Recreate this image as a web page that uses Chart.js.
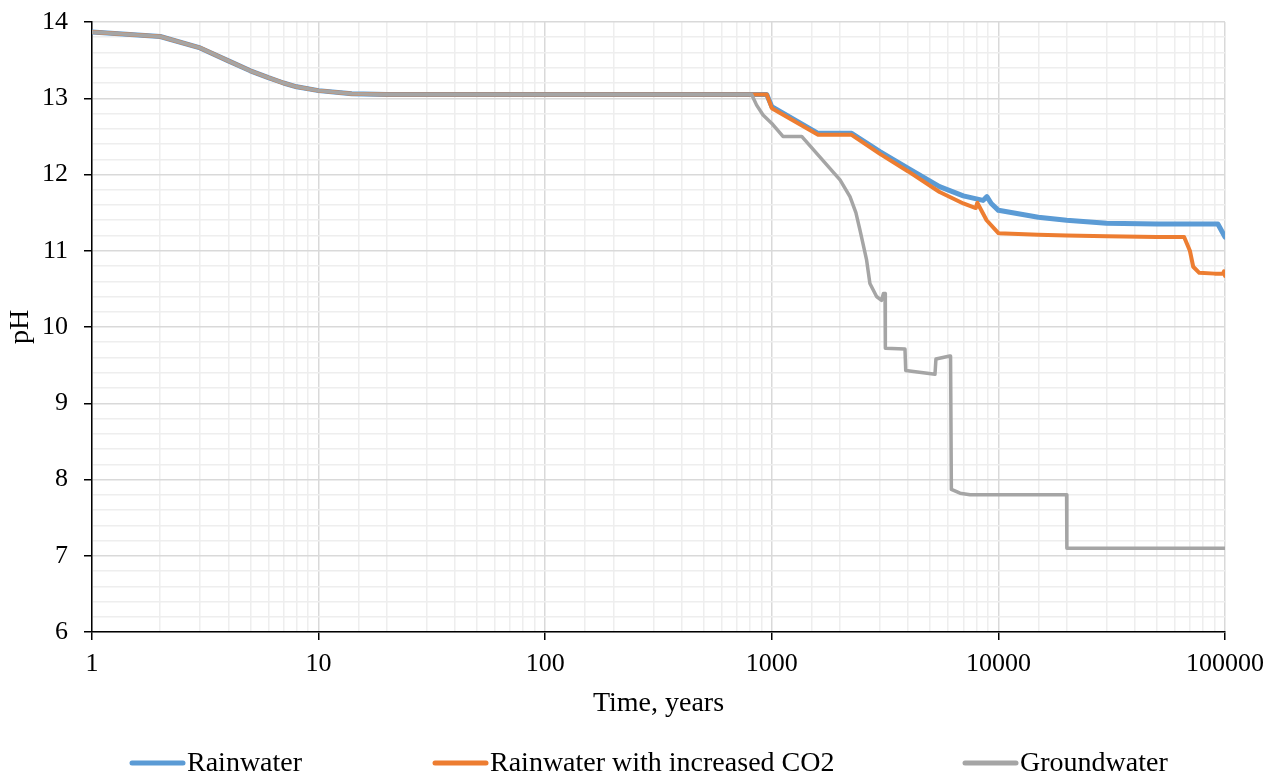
<!DOCTYPE html>
<html>
<head>
<meta charset="utf-8">
<script src="https://cdn.jsdelivr.net/npm/chart.js@4.4.1/dist/chart.umd.min.js"></script>
<style>
  html, body { margin: 0; padding: 0; background: #fff; }
  #wrap { width: 1285px; height: 776px; }
</style>
</head>
<body>
<div id="wrap"><canvas id="phChart" width="1285" height="776"></canvas></div>
<script>
// shared leaching start (all three runs overlap here)
const earlyTime = [1, 2, 3, 4, 5, 6, 7, 8, 10, 14, 20, 50, 100, 300, 800];
const earlyPH   = [13.87, 13.81, 13.66, 13.49, 13.36, 13.27, 13.2, 13.15, 13.1, 13.06, 13.05, 13.05, 13.05, 13.05, 13.05];

// Rainwater
const rainTime = [950, 1000, 1600, 2250, 3000, 4000, 5500, 7000, 8000, 8550, 8900, 9300, 10000, 15000, 20000, 30000, 50000, 93000, 100000];
const rainPH   = [13.05, 12.89, 12.54, 12.54, 12.3, 12.08, 11.84, 11.72, 11.68, 11.66, 11.71, 11.62, 11.53, 11.44, 11.4, 11.36, 11.35, 11.35, 11.18];

// Rainwater with increased CO2
const co2Time = [950, 1000, 1600, 2250, 3000, 4000, 5500, 7000, 7950, 8070, 8870, 10000, 15000, 20000, 30000, 50000, 66000, 70000, 72400, 77000, 90000, 98000, 99000, 100000];
const co2PH   = [13.05, 12.87, 12.52, 12.52, 12.27, 12.04, 11.77, 11.62, 11.56, 11.63, 11.4, 11.23, 11.21, 11.2, 11.19, 11.18, 11.18, 11.0, 10.79, 10.71, 10.7, 10.7, 10.73, 10.67];

// Groundwater
const groundTime = [815, 857, 915, 1000, 1120, 1355, 2000, 2213, 2350, 2450, 2620, 2710, 2900, 3050, 3110, 3160, 3170, 3870, 3900, 5250, 5300, 6100, 6150, 6200, 6770, 7500, 20000, 20050, 100000];
const groundPH   = [13.05, 12.91, 12.78, 12.67, 12.5, 12.5, 11.93, 11.71, 11.5, 11.27, 10.88, 10.57, 10.4, 10.35, 10.44, 10.44, 9.72, 9.71, 9.43, 9.38, 9.58, 9.62, 9.62, 7.87, 7.82, 7.8, 7.8, 7.1, 7.1];

const seriesNames = ['Rainwater', 'Rainwater with increased CO2', 'Groundwater'];
const seriesColors = ['#5B9BD5', '#ED7D31', '#A5A5A5'];

function toPoints(times, values) {
    const t = earlyTime.concat(times);
    const v = earlyPH.concat(values);
    return t.map((x, i) => ({ x: x, y: v[i] }));
}

const isWhole = v => Math.abs(v - Math.round(v)) < 1e-6;
const isDecade = v => isWhole(Math.log10(v));
const serif = "'Liberation Serif', 'Times New Roman', serif";

// legend drawn like the Excel one: short line + label, spread across the bottom
const legendStarts = [130, 433, 963];
const seriesLegend = {
    id: 'seriesLegend',
    afterDraw(chart) {
        const ctx = chart.ctx;
        const y = 763;
        ctx.save();
        ctx.font = '28px ' + serif;
        ctx.textBaseline = 'middle';
        ctx.textAlign = 'left';
        chart.data.datasets.forEach((ds, i) => {
            const x = legendStarts[i];
            ctx.strokeStyle = ds.borderColor;
            ctx.lineWidth = 5;
            ctx.lineCap = 'round';
            ctx.beginPath();
            ctx.moveTo(x + 2, y);
            ctx.lineTo(x + 53, y);
            ctx.stroke();
            ctx.fillStyle = '#000';
            ctx.fillText(ds.label, x + 57, y + 1);
        });
        ctx.restore();
    }
};

const phCtx = document.getElementById('phChart').getContext('2d');

new Chart(phCtx, {
    type: 'line',
    data: {
        datasets: [{
            label: seriesNames[0],
            data: toPoints(rainTime, rainPH),
            borderColor: seriesColors[0],
            backgroundColor: seriesColors[0],
            borderWidth: 5,
            order: 2
        }, {
            label: seriesNames[1],
            data: toPoints(co2Time, co2PH),
            borderColor: seriesColors[1],
            backgroundColor: seriesColors[1],
            borderWidth: 4,
            order: 1
        }, {
            label: seriesNames[2],
            data: toPoints(groundTime, groundPH),
            borderColor: seriesColors[2],
            backgroundColor: seriesColors[2],
            borderWidth: 3.5,
            order: 0
        }]
    },
    plugins: [seriesLegend],
    options: {
        responsive: false,
        animation: false,
        layout: { padding: { top: 22, right: 60, left: 0, bottom: 56 } },
        elements: {
            point: { radius: 0 },
            line: { tension: 0, fill: false, borderCapStyle: 'round', borderJoinStyle: 'round' }
        },
        plugins: {
            tooltip: { enabled: false },
            legend: { display: false }
        },
        scales: {
            x: {
                type: 'logarithmic',
                min: 1,
                max: 100000,
                border: { color: '#000', width: 1.5 },
                grid: {
                    color: c => isDecade(c.tick.value) ? '#d9d9d9' : '#eeeeee',
                    lineWidth: 1.5,
                    tickColor: c => isDecade(c.tick.value) ? '#000' : 'rgba(0,0,0,0)',
                    tickLength: 8,
                    tickWidth: 1.5
                },
                ticks: {
                    autoSkip: false,
                    maxRotation: 0,
                    color: '#000',
                    padding: 9,
                    font: { family: serif, size: 26 },
                    callback: v => isDecade(v) ? String(v) : ''
                },
                title: {
                    display: true,
                    text: 'Time, years',
                    color: '#000',
                    font: { family: serif, size: 28 },
                    padding: { top: 4, bottom: 0 }
                },
                afterFit: s => { s.height = 88; }
            },
            y: {
                min: 6,
                max: 14,
                border: { color: '#000', width: 1.5 },
                grid: {
                    color: c => isWhole(c.tick.value) ? '#d9d9d9' : '#eeeeee',
                    lineWidth: 1.5,
                    tickColor: c => isWhole(c.tick.value) ? '#000' : 'rgba(0,0,0,0)',
                    tickLength: 8,
                    tickWidth: 1.5
                },
                ticks: {
                    stepSize: 0.2,
                    autoSkip: false,
                    color: '#000',
                    padding: 16,
                    font: { family: serif, size: 26 },
                    callback: v => isWhole(v) ? Math.round(v) : ''
                },
                title: {
                    display: true,
                    text: 'pH',
                    color: '#000',
                    font: { family: serif, size: 28 },
                    padding: { top: 4, bottom: 0 }
                },
                afterFit: s => {
                    s.width = 92;
                    s.paddingTop = 0;
                    s.paddingBottom = 0;
                }
            }
        }
    }
});
</script>
</body>
</html>
